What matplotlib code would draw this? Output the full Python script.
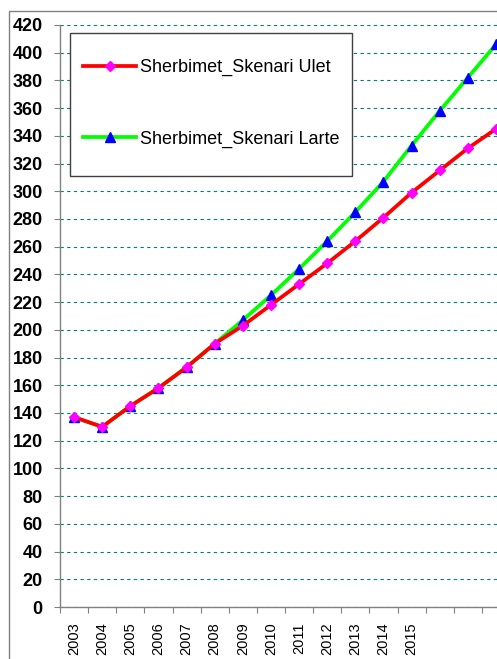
import matplotlib
matplotlib.use("Agg")
import matplotlib.pyplot as plt
from matplotlib.patches import Rectangle
import numpy as np

years = ["2003", "2004", "2005", "2006", "2007", "2008", "2009", "2010",
         "2011", "2012", "2013", "2014", "2015", "2016", "2017", "2018"]
tick_labels = ["2003", "2004", "2005", "2006", "2007", "2008", "2009", "2010",
               "2011", "2012", "2013", "2014", "2015", "", "", ""]
ulet = [137, 130, 145, 158, 173, 190, 203, 218, 233, 248, 264, 281, 299, 315, 331, 345]
larte = [137, 130, 145, 158, 173, 190, 207, 225, 244, 264, 285, 307, 333, 358, 382, 406]
label_ulet = "Sherbimet_Skenari Ulet"
label_larte = "Sherbimet_Skenari Larte"

W, H = 497, 659
fig = plt.figure(figsize=(W / 100, H / 100), dpi=100)
fig.patch.set_facecolor("white")

# outer chart border
fig.patches.append(Rectangle((9 / W, -0.05), 1.2, 1 - 11 / H + 0.05,
                             transform=fig.transFigure, fill=False,
                             edgecolor="#808080", linewidth=1.0))

left, right, bottom, top = 60, 510, 607, 25
ax = fig.add_axes([left / W, 1 - bottom / H, (right - left) / W, (bottom - top) / H])
ax.set_facecolor("white")

x = np.arange(len(years))
ax.plot(x, larte, color="#00ff00", linewidth=2.7, marker="^", markersize=7,
        markerfacecolor="#0000ff", markeredgecolor="#0000ff", label=label_larte, zorder=3)
ax.plot(x, ulet, color="#ff0000", linewidth=2.7, marker="D", markersize=5.5,
        markerfacecolor="#ff00ff", markeredgecolor="#ff00ff", label=label_ulet, zorder=4)

ax.set_xlim(-0.5, len(years) - 0.5)
ax.set_ylim(0, 420)
ax.set_yticks(np.arange(0, 421, 20))
ax.yaxis.grid(True, color="#008080", linestyle=(0, (3, 3)), linewidth=0.8)
ax.set_axisbelow(True)

for s in ["top", "right"]:
    ax.spines[s].set_visible(False)
for s in ["left", "bottom"]:
    ax.spines[s].set_color("#808080")
    ax.spines[s].set_linewidth(1.0)

ax.tick_params(axis="y", direction="out", length=4.5, color="#808080", pad=8)
for lab in ax.get_yticklabels():
    lab.set_fontfamily("Liberation Sans")
    lab.set_fontweight("bold")
    lab.set_fontsize(13)

ax.set_xticks(np.arange(-0.5, len(years) - 0.4, 1.0))
ax.set_xticklabels([])
ax.set_xticks(x, minor=True)
ax.set_xticklabels(tick_labels, minor=True, rotation=90,
                   fontfamily="Liberation Sans", fontsize=10.5)
ax.tick_params(axis="x", which="major", direction="out", length=4.5, color="#808080")
ax.tick_params(axis="x", which="minor", length=0, pad=11)

# legend frame
fig.patches.append(Rectangle((70 / W, 1 - 176 / H), (352 - 70) / W, (176 - 33) / H,
                             transform=fig.transFigure, facecolor="white",
                             edgecolor="#404040", linewidth=1.0, zorder=5))

h, l = ax.get_legend_handles_labels()
leg = fig.legend([h[1], h[0]], [l[1], l[0]], loc="center left",
                 bbox_to_anchor=(83 / W, 1 - 103.5 / H), bbox_transform=fig.transFigure,
                 borderaxespad=0, borderpad=0, frameon=False,
                 prop={"family": "Liberation Sans", "size": 13},
                 handlelength=2.95, handletextpad=0.2, labelspacing=3.0)
leg.set_zorder(6)

fig.savefig("out.png", dpi=100, facecolor="white")
